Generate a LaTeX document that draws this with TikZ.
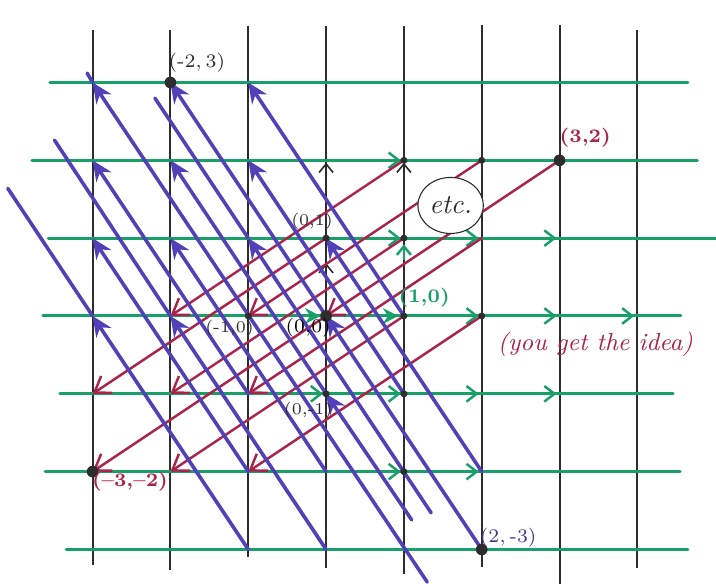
\documentclass[tikz,border=0pt]{standalone}
\usepackage{tikz}
\usetikzlibrary{arrows.meta,shapes.geometric}
\definecolor{gridgreen}{RGB}{25,160,105}
\definecolor{flowblue}{RGB}{80,65,185}
\definecolor{flowred}{RGB}{170,35,75}
\definecolor{pen}{RGB}{45,45,45}
\tikzset{
  vline/.style={line width=0.75pt, pen},
  hline/.style={line width=1.1pt, gridgreen, line cap=round},
  blueln/.style={line width=1.3pt, flowblue, line cap=round},
  bluevec/.style={blueln, -{Stealth[length=2.6mm,width=2.3mm]}},
  redln/.style={line width=0.9pt, flowred, line cap=round},
  redvec/.style={redln, -{Straight Barb[length=1.9mm,width=2.6mm]}},
  gtip/.style={line width=0.9pt, gridgreen, -{Straight Barb[length=1.3mm,width=2mm]}},
  gbold/.style={line width=1.1pt, gridgreen, -{Stealth[length=2mm,width=2mm]}},
  uptip/.style={line width=0.6pt, pen, -{Straight Barb[length=1.1mm,width=1.8mm]}},
  ptlab/.style={inner sep=1pt, font=\scriptsize},
  smlab/.style={inner sep=1pt, text=pen, font=\fontsize{6}{7}\selectfont},
}
\newcommand{\ptdot}[2]{%
  \fill[pen] #2 circle (#1);
}

\begin{document}
\begin{tikzpicture}
  \useasboundingbox (-4.19,-3.44) rectangle (5.01,4.06);
  % vertical lines
  \foreach \x/\t/\b in {-3/3.68/-3.2, -2/3.68/-3.26, -1/3.73/-3.1, 0/3.73/-3.24,
                        1/3.73/-3.32, 2/3.74/-3.23, 3/3.74/-3.44, 4/3.68/-3.24}
    \draw[vline] (\x,\t) -- (\x,\b);
  % green lines
  \foreach \y/\l/\r in {3/-3.55/4.65, 2/-3.78/4.77, 1/-3.57/5.05, 0/-3.64/4.56,
                        -1/-3.42/4.46, -2/-3.61/4.55, -3/-3.34/4.65}
    \draw[hline] (\l,\y) -- (\r,\y);
  \foreach \x/\y in {1/2, 1/1, 2/1, 3/1, 2/0, 3/0, 4/0, 0/-1, 1/-1, 2/-1, 3/-1, 1/-2, 2/-2}
    \draw[gtip] (\x-0.25,\y) -- (\x-0.04,\y);
  \draw[gbold] (-0.35,0) -- (-0.07,0);
  \draw[gbold] (0.65,0) -- (0.93,0);
  % little upward tips
  \foreach \x/\y in {0/1.97, 1/1.97, 0/0.68}
    \draw[uptip] (\x,\y-0.2) -- (\x,\y);
  \draw[uptip, gridgreen, line width=0.9pt] (1,0.72) -- (1,0.92);

  % red arrows (3,2) steps back
  \foreach \a/\b/\c/\d in {1/2/-2/0, 2/2/-1/0, 3/2/0/0, 0/0/-3/-2, 0/1/-3/-1,
                           1/1/-2/-1, 2/1/-1/-1, 1/0/-2/-2, 2/0/-1/-2}
    \draw[redvec] (\a,\b) -- (\c,\d);

  % blue arrows (-2,3) steps
  \foreach \a/\b/\c/\d in {-1/-3/-3/0, -1/-2/-3/1, 0/-3/-2/0, -1/-1/-3/2, 0/-2/-2/1,
                           1.3/-3.42/-3/3, 1.1/-2.62/0/-1, 0/-1/-2/2, 1.35/-2.53/-1/1,
                           2/-3/0/0, 0/0/-2/3, 1/-1/-1/2, 2/-2/0/1, 1/0/-1/3}
    \draw[bluevec] (\a,\b) -- (\c,\d);
  \draw[blueln] (-3,0) -- (-4.09,1.64);
  \draw[blueln] (-2,0) -- (-3.49,2.26);
  \draw[blueln] (-3,3) -- (-3.07,3.12);
  \draw[blueln] (-1,1) -- (-2.2,2.8);

  % lattice points
  \foreach \p in {(-2,3),(0,0),(-3,-2),(2,-3),(3,2)}
    {\ptdot{0.075}{\p}}
  \foreach \p in {(2,2),(1,2),(0,1),(1,1),(-1,0),(1,0),(2,0),(1,-1),(1,-2),(0,-1)}
    {\ptdot{0.045}{\p}}

  \node[draw=pen, thin, ellipse, fill=white, minimum width=0.84cm, minimum height=0.72cm,
        inner sep=0pt, font=\itshape, text=pen] (etcbub) at (1.6,1.42) {etc.};

  \node[ptlab, text=pen] (lab23) at (-1.66,3.26) {$(\mbox{-}2,3)$};
  \node[ptlab, text=flowred, font=\scriptsize\bfseries] (lab32) at (3.33,2.29) {(3,2)};
  \node[smlab] (lab01) at (-0.18,1.21) {(0,1)};
  \node[smlab] (labm10) at (-1.24,-0.16) {(\mbox{-}1,0)};
  \node[ptlab, text=black] (lab00) at (-0.23,-0.15) {(0,0)};
  \node[ptlab, text=gridgreen, font=\scriptsize\bfseries] (lab10) at (1.26,0.24) {(1,0)};
  \node[smlab] (lab0m1) at (-0.23,-1.21) {(0,\mbox{-}1)};
  \node[ptlab, text=flowred, font=\scriptsize\bfseries] (labm3m2) at (-2.52,-2.13) {(\textendash3,\textendash2)};
  \node[ptlab, text=flowblue!80!black] (lab2m3) at (2.34,-2.85) {$(2,\mbox{-}3)$};
  \node[text=flowred, font=\small\itshape] (idea) at (3.46,-0.37) {(you get the idea)};
\end{tikzpicture}
\end{document}
